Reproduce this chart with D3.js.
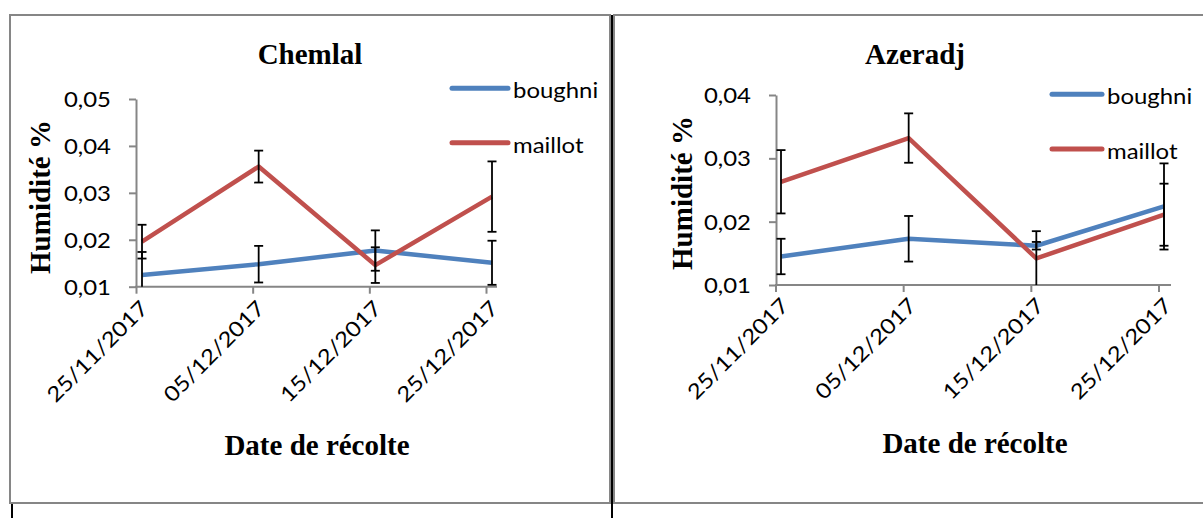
<!DOCTYPE html>
<html>
<head>
<meta charset="utf-8">
<script src="https://cdn.jsdelivr.net/npm/d3@7"></script>
<style>
  html, body { margin: 0; padding: 0; background: #ffffff; }
  svg { display: block; }
</style>
</head>
<body>
<svg id="chart" width="1203" height="518"></svg>
<script>
// ---- data ----
const dates = ["25/11/2017", "05/12/2017", "15/12/2017", "25/12/2017"];
const seriesNames = ["boughni", "maillot"];

const chemlalBoughni = [0.0125, 0.0148, 0.0177, 0.0151];
const chemlalBoughniErr = [0.0049, 0.0039, 0.0043, 0.0047];
const chemlalMaillot = [0.0196, 0.0356, 0.0146, 0.0292];
const chemlalMaillotErr = [0.0036, 0.0034, 0.0038, 0.0075];

const azeradjBoughni = [0.0145, 0.0173, 0.0162, 0.0224];
const azeradjBoughniErr = [0.0028, 0.0036, 0.0006, 0.0068];
const azeradjMaillot = [0.0263, 0.0332, 0.0142, 0.0211];
const azeradjMaillotErr = [0.0050, 0.0039, 0.0043, 0.0049];

const chemlalYTicks = [0.01, 0.02, 0.03, 0.04, 0.05];
const azeradjYTicks = [0.01, 0.02, 0.03, 0.04];

const chartTitles = ["Chemlal", "Azeradj"];
const yTitle = "Humidité %";
const xTitle = "Date de récolte";

// ---- style ----
const colors = ["#4F81BD", "#C0504D"];
const gridGrey = "#868686";
const tickFont = "Lato, 'Noto Sans', sans-serif";
const titleFont = "'Liberation Serif', 'DejaVu Serif', serif";
const SX = 1.14;
const FS = 21;
const fmt = d => d3.format(".2f")(d).replace(".", ",");

const svg = d3.select("#chart");
svg.append("rect").attr("width", 1203).attr("height", 518).attr("fill", "#fff");

// frames
svg.append("rect").attr("x", 10).attr("y", 15).attr("width", 600).attr("height", 488)
  .attr("fill", "none").attr("stroke", gridGrey).attr("stroke-width", 2);
svg.append("rect").attr("x", 614).attr("y", 15).attr("width", 620).attr("height", 488)
  .attr("fill", "none").attr("stroke", gridGrey).attr("stroke-width", 2);
svg.append("line").attr("x1", 12).attr("x2", 12).attr("y1", 504).attr("y2", 518)
  .attr("stroke", "#000").attr("stroke-width", 2);
svg.append("line").attr("x1", 612).attr("x2", 612).attr("y1", 15).attr("y2", 518)
  .attr("stroke", "#000").attr("stroke-width", 2);

function drawChart(cfg) {
  const g = svg.append("g");
  const x = d3.scalePoint().domain(dates).range(cfg.xRange);
  const y = d3.scaleLinear().domain([cfg.yTicks[0], cfg.yTicks[cfg.yTicks.length - 1]]).range(cfg.yRange);
  const ymin = cfg.yTicks[0];

  // y axis
  const ya = g.append("g").attr("transform", `translate(${cfg.axisX},0)`)
    .call(d3.axisLeft(y).tickValues(cfg.yTicks).tickFormat(fmt).tickSizeInner(7).tickSizeOuter(0));
  ya.select(".domain").attr("stroke", gridGrey).attr("stroke-width", 2);
  ya.selectAll(".tick line").attr("stroke", gridGrey).attr("stroke-width", 2);
  ya.selectAll(".tick text")
    .attr("x", 0).attr("dy", "0.36em")
    .attr("transform", `translate(-25,0) scale(${SX},1)`)
    .attr("font-family", tickFont).attr("font-size", FS).attr("fill", "#000")
    .attr("text-anchor", "end");

  // x axis (ticks sit slightly left of the data points, as in the source)
  const xa = g.append("g").attr("transform", `translate(${cfg.tickOffset},${cfg.yRange[0]})`)
    .call(d3.axisBottom(x).tickSizeInner(7).tickSizeOuter(0));
  xa.select(".domain").remove();
  xa.selectAll(".tick line").attr("stroke", gridGrey).attr("stroke-width", 2);
  xa.selectAll(".tick text")
    .attr("x", 0).attr("y", 0).attr("dy", 0)
    .attr("text-anchor", "end")
    .attr("transform", `translate(${cfg.labelDX},${cfg.labelDY}) rotate(-45) scale(${SX},1)`)
    .attr("font-family", tickFont).attr("font-size", FS).attr("fill", "#000");
  g.append("line")
    .attr("x1", cfg.axisX - 1).attr("x2", cfg.axisEnd)
    .attr("y1", cfg.yRange[0]).attr("y2", cfg.yRange[0])
    .attr("stroke", gridGrey).attr("stroke-width", 2);

  // series
  const line = d3.line().x((d, i) => x(dates[i])).y(d => y(d));
  cfg.series.forEach((s, si) => {
    g.append("path").datum(s.values)
      .attr("d", line).attr("fill", "none")
      .attr("stroke", colors[si]).attr("stroke-width", 4.5)
      .attr("stroke-linejoin", "round");
  });
  cfg.series.forEach((s, si) => {
    const eg = g.append("g").attr("stroke", "#000").attr("stroke-width", 1.8);
    s.values.forEach((v, i) => {
      const cx = x(dates[i]);
      const hi = v + s.err[i];
      const lo = Math.max(v - s.err[i], ymin);
      eg.append("line").attr("x1", cx).attr("x2", cx).attr("y1", y(hi)).attr("y2", y(lo));
      eg.append("line").attr("x1", cx - 4.5).attr("x2", cx + 4.5).attr("y1", y(hi)).attr("y2", y(hi));
      if (v - s.err[i] >= ymin) {
        eg.append("line").attr("x1", cx - 4.5).attr("x2", cx + 4.5)
          .attr("y1", y(v - s.err[i])).attr("y2", y(v - s.err[i]));
      }
    });
  });

  // legend
  seriesNames.forEach((name, si) => {
    const ly = cfg.legendY[si];
    g.append("line").attr("x1", cfg.legendX).attr("x2", cfg.legendX + cfg.legendLen)
      .attr("y1", ly).attr("y2", ly)
      .attr("stroke", colors[si]).attr("stroke-width", 5).attr("stroke-linecap", "round");
    g.append("text")
      .attr("transform", `translate(${cfg.legendX + cfg.legendLen + 5},${ly + 10}) scale(${SX},1)`)
      .attr("font-family", tickFont).attr("font-size", FS).attr("fill", "#000")
      .text(name);
  });

  // titles
  g.append("text").attr("x", cfg.titleX).attr("y", 64).attr("text-anchor", "middle")
    .attr("font-family", titleFont).attr("font-weight", "bold").attr("font-size", 29)
    .attr("fill", "#000").text(cfg.title);
  g.append("text").attr("transform", `translate(${cfg.yTitleX},${cfg.yTitleY}) rotate(-90)`)
    .attr("text-anchor", "middle")
    .attr("font-family", titleFont).attr("font-weight", "bold").attr("font-size", 29)
    .attr("fill", "#000").text(yTitle);
  g.append("text").attr("x", cfg.xTitleX).attr("y", cfg.xTitleY).attr("text-anchor", "middle")
    .attr("font-family", titleFont).attr("font-weight", "bold").attr("font-size", 29)
    .attr("fill", "#000").text(xTitle);
}

drawChart({
  title: chartTitles[0], titleX: 310,
  yTicks: chemlalYTicks, yRange: [286.7, 99],
  xRange: [142, 492], tickOffset: -6, axisX: 136, axisEnd: 497,
  labelDX: 13, labelDY: 23,
  series: [
    { values: chemlalBoughni, err: chemlalBoughniErr },
    { values: chemlalMaillot, err: chemlalMaillotErr }
  ],
  legendX: 452, legendLen: 56, legendY: [88.3, 142.7],
  yTitleX: 50, yTitleY: 197,
  xTitleX: 317, xTitleY: 455
});

drawChart({
  title: chartTitles[1], titleX: 915,
  yTicks: azeradjYTicks, yRange: [285, 95],
  xRange: [781, 1164], tickOffset: -5.5, axisX: 776, axisEnd: 1171,
  labelDX: 14, labelDY: 22,
  series: [
    { values: azeradjBoughni, err: azeradjBoughniErr },
    { values: azeradjMaillot, err: azeradjMaillotErr }
  ],
  legendX: 1052, legendLen: 50, legendY: [94.3, 149],
  yTitleX: 692, yTitleY: 193,
  xTitleX: 975, xTitleY: 453
});
</script>
</body>
</html>
